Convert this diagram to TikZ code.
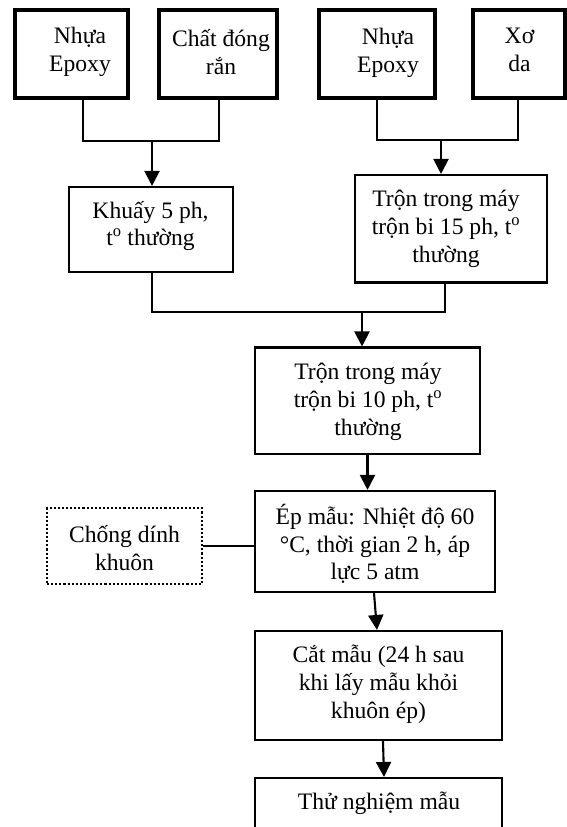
\documentclass[tikz,border=0pt]{standalone}
\usepackage{fontspec}
\setmainfont{Liberation Serif}
\usetikzlibrary{arrows.meta}
\begin{document}
\begin{tikzpicture}[x=1pt,y=-1pt,
  thickbox/.style={draw,line width=4pt,inner sep=0pt},
  plainbox/.style={draw,line width=2.1pt,inner sep=0pt},
  dotbox/.style={draw,line width=2.1pt,dotted,inner sep=0pt},
  txt/.style={align=center,inner sep=0pt,font=\fontsize{23.6}{27.8}\selectfont},
  conn/.style={line width=2.1pt},
  arr/.style={line width=2.1pt,-{Triangle[length=15pt,width=15pt]}}]
\path[use as bounding box] (0,0) rectangle (567,827);
\clip (0,0) rectangle (567,827);
% boxes
\node[thickbox,minimum width=113pt,minimum height=88pt] (b1) at (71.5,54) {};
\node[thickbox,minimum width=118pt,minimum height=88pt] (b2) at (218,54) {};
\node[thickbox,minimum width=116pt,minimum height=88pt] (b3) at (376.7,54) {};
\node[thickbox,minimum width=92pt,minimum height=88pt] (b4) at (519,54) {};
\node[plainbox,minimum width=164pt,minimum height=85pt] (khuay) at (151,229.5) {};
\node[plainbox,minimum width=192pt,minimum height=107.5pt] (mix) at (451,228.75) {};
\node[plainbox,minimum width=225pt,minimum height=106.5pt] (mid) at (367.5,400.75) {};
\node[plainbox,minimum width=240pt,minimum height=101pt] (ep) at (375,541.5) {};
\node[dotbox,minimum width=155pt,minimum height=76pt] (chong) at (124.5,546) {};
\node[plainbox,minimum width=247pt,minimum height=109pt] (cat) at (378.5,685.5) {};
\node[plainbox,minimum width=247pt,minimum height=62pt] (thu) at (378.5,809) {};
% texts
\node[txt] (t1) at (80,52) {Nhựa\\Epoxy};
\node[txt] (t2) at (221,52) {Chất đóng\\rắn};
\node[txt] (t3) at (388,53) {Nhựa\\Epoxy};
\node[txt] (t4) at (519.5,50) {Xơ\\da};
\node[txt] (tk) at (150.5,226) {Khuấy 5 ph,\\t\textsuperscript{o} thường};
\node[txt] (tm) at (446,229) {Trộn trong máy\\trộn bi 15 ph, t\textsuperscript{o}\\thường};
\node[txt] (td) at (368,402) {Trộn trong máy\\trộn bi 10 ph, t\textsuperscript{o}\\thường};
\node[txt] (te) at (375,544) {Ép mẫu: Nhiệt độ 60\\°C, thời gian 2 h, áp\\lực 5 atm};
\node[txt] (tc) at (124.5,548) {Chống dính\\khuôn};
\node[txt] (tx) at (378.5,684) {Cắt mẫu (24 h sau\\khi lấy mẫu khỏi\\khuôn ép)};
\node[txt] (tt) at (379,803) {Thử nghiệm mẫu};
% junctions
\coordinate (j1) at (152,141);
\coordinate (j2) at (441,140);
\coordinate (j3) at (362,312);
% connectors
\draw[conn] ([xshift=11.5pt]b1.south) |- (j1) -| ([xshift=1pt]b2.south);
\draw[arr] (j1) -- (j1 |- khuay.north);
\draw[conn] (b3.south) |- (j2) -| ([xshift=-1pt]b4.south);
\draw[arr] (j2) -- (j2 |- mix.north);
\draw[conn] ([xshift=1pt]khuay.south) |- (j3) -| ([xshift=-6pt]mix.south);
\draw[arr] (j3) -- (j3 |- mid.north);
\draw[arr] (mid.south) -- (ep.north -| mid.south);
\draw[conn] (chong.east) -- (chong.east -| ep.west);
\draw[arr] ([xshift=-1pt]ep.south) -- ([xshift=-1.5pt]cat.north);
\draw[arr] ([xshift=4.5pt]cat.south) -- ([xshift=5.5pt]thu.north);
\end{tikzpicture}
\end{document}
